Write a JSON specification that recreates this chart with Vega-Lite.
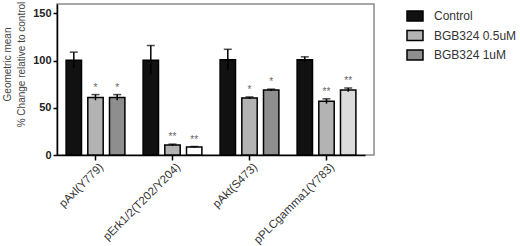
{
  "$schema": "https://vega.github.io/schema/vega-lite/v6.json",
  "autosize": "none",
  "width": 317,
  "height": 151,
  "padding": {"left": 57, "top": 4, "right": 146, "bottom": 91},
  "background": "white",
  "config": {
    "font": "Liberation Sans",
    "view": {"stroke": "#8a8a8a", "strokeWidth": 1.5}
  },
  "data": {
    "values": [
      {"target": "pAxl(Y779)", "treatment": "Control", "value": 100.5, "lo": 92, "hi": 109, "sig": ""},
      {"target": "pAxl(Y779)", "treatment": "BGB324 0.5uM", "value": 61, "lo": 58, "hi": 64, "sig": "*"},
      {"target": "pAxl(Y779)", "treatment": "BGB324 1uM", "value": 61, "lo": 58, "hi": 64, "sig": "*"},
      {"target": "pErk1/2(T202/Y204)", "treatment": "Control", "value": 100.5, "lo": 85, "hi": 116, "sig": ""},
      {"target": "pErk1/2(T202/Y204)", "treatment": "BGB324 0.5uM", "value": 10.5, "lo": 9.5, "hi": 11.5, "sig": "**"},
      {"target": "pErk1/2(T202/Y204)", "treatment": "BGB324 1uM", "value": 8.5, "lo": 8, "hi": 9, "sig": "**"},
      {"target": "pAkt(S473)", "treatment": "Control", "value": 101, "lo": 90, "hi": 112, "sig": ""},
      {"target": "pAkt(S473)", "treatment": "BGB324 0.5uM", "value": 60.5, "lo": 59.5, "hi": 61.5, "sig": "*"},
      {"target": "pAkt(S473)", "treatment": "BGB324 1uM", "value": 68.8, "lo": 67.8, "hi": 69.8, "sig": "*"},
      {"target": "pPLCgamma1(Y783)", "treatment": "Control", "value": 101, "lo": 98, "hi": 104, "sig": ""},
      {"target": "pPLCgamma1(Y783)", "treatment": "BGB324 0.5uM", "value": 57, "lo": 54.5, "hi": 59.5, "sig": "**"},
      {"target": "pPLCgamma1(Y783)", "treatment": "BGB324 1uM", "value": 69, "lo": 67, "hi": 71, "sig": "**"}
    ]
  },
  "encoding": {
    "x": {
      "field": "target", "type": "nominal",
      "sort": ["pAxl(Y779)", "pErk1/2(T202/Y204)", "pAkt(S473)", "pPLCgamma1(Y783)"],
      "scale": {"range": [0, 308], "paddingInner": 0.18, "paddingOuter": 0.09},
      "axis": {
        "title": null, "labelAngle": -45, "labelAlign": "right", "labelBaseline": "top",
        "labelFontSize": 11.5, "labelColor": "#333", "labelOffset": 2,
        "domainColor": "#000", "domainWidth": 1.5, "tickColor": "#000", "tickWidth": 1.5, "tickSize": 5,
        "labelPadding": 1
      }
    },
    "xOffset": {
      "field": "treatment", "type": "nominal",
      "sort": ["Control", "BGB324 0.5uM", "BGB324 1uM"],
      "scale": {"paddingInner": 0.29, "paddingOuter": 0.1}
    }
  },
  "layer": [
    {
      "mark": {"type": "bar", "stroke": "#000", "strokeWidth": 1.5},
      "encoding": {
        "y": {
          "field": "value", "type": "quantitative",
          "scale": {"domain": [0, 150]},
          "axis": {
            "values": [0, 50, 100, 150],
            "title": ["Geometric mean", "% Change relative to control"],
            "titleFontWeight": "normal", "titleFontSize": 10, "titleColor": "#444",
            "titleLineHeight": 14, "titleY": 60,
            "titlePadding": 6,
            "labelFontWeight": "bold", "labelFontSize": 11, "labelColor": "#222",
            "domainColor": "#000", "domainWidth": 1.5, "tickColor": "#000", "tickWidth": 1.5, "tickSize": 4,
            "grid": false
          }
        },
        "fill": {
          "condition": [
            {"test": "datum.target === 'pErk1/2(T202/Y204)' && datum.treatment === 'BGB324 1uM'", "value": "#ffffff"},
            {"test": "datum.target === 'pPLCgamma1(Y783)' && datum.treatment === 'BGB324 1uM'", "value": "#dcdcdc"}
          ],
          "field": "treatment", "type": "nominal",
          "sort": ["Control", "BGB324 0.5uM", "BGB324 1uM"],
          "scale": {"domain": ["Control", "BGB324 0.5uM", "BGB324 1uM"], "range": ["#111111", "#b3b3b3", "#8e8e8e"]},
          "legend": {
            "title": null, "orient": "none", "legendX": 349, "legendY": 3,
            "padding": 0, "rowPadding": 2.5,
            "symbolType": "M-1,-0.625H1V0.625H-1Z", "symbolSize": 256,
            "symbolStrokeColor": "#000", "symbolStrokeWidth": 1.5,
            "labelFontSize": 12, "labelColor": "#333", "labelOffset": 10
          }
        }
      }
    },
    {
      "mark": {"type": "rule", "stroke": "#000", "strokeWidth": 1.5},
      "encoding": {
        "y": {"field": "lo", "type": "quantitative"},
        "y2": {"field": "hi"}
      }
    },
    {
      "mark": {"type": "tick", "color": "#000", "thickness": 1.5, "size": 8, "orient": "horizontal"},
      "encoding": {"y": {"field": "hi", "type": "quantitative"}}
    },
    {
      "mark": {"type": "text", "fontSize": 10, "fill": "#666", "baseline": "alphabetic", "dy": -4},
      "encoding": {
        "y": {"field": "hi", "type": "quantitative"},
        "text": {"field": "sig"}
      }
    }
  ]
}
